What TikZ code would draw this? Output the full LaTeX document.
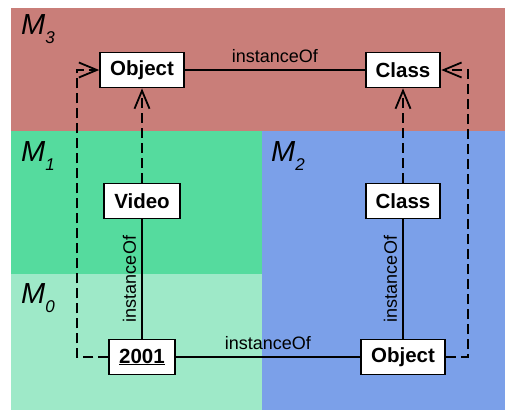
\documentclass[tikz,border=0pt]{standalone}
\usepackage{fontspec}
\setmainfont{Liberation Sans}
\usetikzlibrary{arrows.meta}
\definecolor{cMthree}{RGB}{201,126,121}
\definecolor{cMone}{RGB}{85,219,158}
\definecolor{cMzero}{RGB}{158,233,200}
\definecolor{cMtwo}{RGB}{123,160,233}
\tikzset{
  box/.style={draw=black, fill=white, line width=1.8pt, minimum height=35pt, inner xsep=10pt,
    font=\bfseries\fontsize{20.5}{24}\selectfont},
  rel/.style={draw=black, line width=1.8pt},
  dep/.style={draw=black, line width=1.8pt, dash pattern=on 10pt off 5pt,
    -{Straight Barb[length=18pt,width=15pt,line width=1.8pt]}},
  lbl/.style={font=\fontsize{18}{21}\selectfont, inner sep=6pt},
  mlbl/.style={font=\itshape\fontsize{29}{31}\selectfont, anchor=north west, inner sep=0pt},
}
\newcommand{\mlev}[1]{M\raisebox{-9pt}{\fontsize{17}{17}\selectfont #1}}
\begin{document}
\begin{tikzpicture}[x=1pt,y=-1pt]
\useasboundingbox (0,0) rectangle (505,410);
\fill[white] (0,0) rectangle (505,410);
\fill[cMthree] (11,8) rectangle (505,131);
\fill[cMone] (11,131) rectangle (262,274);
\fill[cMzero] (11,274) rectangle (262,410);
\fill[cMtwo] (262,131) rectangle (505,410);

\node[mlbl] (m3) at (21,14) {\mlev{3}};
\node[mlbl] (m1) at (21,141) {\mlev{1}};
\node[mlbl] (m2) at (271,141) {\mlev{2}};
\node[mlbl] (m0) at (21,283) {\mlev{0}};

\node[box] (o3) at (142,70) {Object};
\node[box] (c3) at (403,70) {Class};
\node[box] (video) at (142,201) {Video};
\node[box] (c2) at (403,201) {Class};
\node[box] (i0) at (142,357) {\underline{2001}};
\node[box] (o0) at (403,357) {Object};

\coordinate (bl) at (77,357);
\coordinate (tl) at (77,70);
\coordinate (br) at (468,357);
\coordinate (tr) at (468,70);

\draw[rel] (o3) -- node[lbl, above] (t1) {instanceOf} (c3);
\draw[rel] (i0) -- node[lbl, above] (t2) {instanceOf} (o0);
\draw[rel] (i0) -- node[lbl, anchor=south, rotate=90, inner sep=5pt] (t3) {instanceOf} (video);
\draw[rel] (o0) -- node[lbl, anchor=south, rotate=90, inner sep=5pt] (t4) {instanceOf} (c2);

\draw[dep] (video) -- (o3);
\draw[dep] (c2) -- (c3);
\draw[dep] (i0.west) -- (bl) -- (tl) -- (o3.west);
\draw[dep] (o0.east) -- (br) -- (tr) -- (c3.east);
\end{tikzpicture}
\end{document}
